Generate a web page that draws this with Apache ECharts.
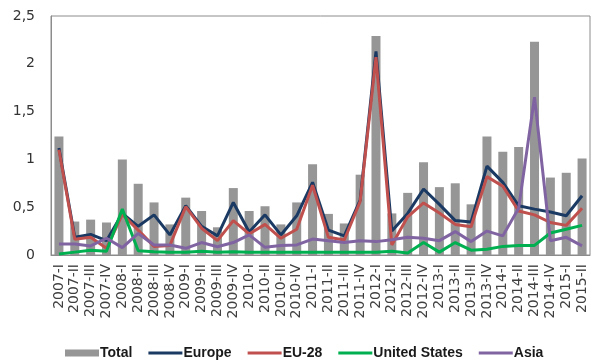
<!DOCTYPE html>
<html>
<head>
<meta charset="utf-8">
<script src="https://cdn.jsdelivr.net/npm/echarts@6/dist/echarts.min.js"></script>
<style>
html,body{margin:0;padding:0;background:#fff;}
#chart{width:595px;height:360px;}
</style>
</head>
<body>
<div id="chart"></div>
<script>
var categories = ['2007-I','2007-II','2007-III','2007-IV','2008-I','2008-II','2008-III','2008-IV','2009-I','2009-II','2009-III','2009-IV','2010-I','2010-II','2010-III','2010-IV','2011-I','2011-II','2011-III','2011-IV','2012-I','2012-II','2012-III','2012-IV','2013-I','2013-II','2013-III','2013-IV','2014-I','2014-II','2014-III','2014-IV','2015-I','2015-II'];
var total = [1.24,0.35,0.37,0.34,1.00,0.745,0.55,0.32,0.60,0.46,0.29,0.70,0.46,0.51,0.32,0.55,0.95,0.43,0.33,0.84,2.29,0.435,0.65,0.97,0.71,0.75,0.53,1.24,1.08,1.13,2.23,0.81,0.86,1.01];
var europe = [1.12,0.185,0.215,0.15,0.435,0.30,0.42,0.21,0.515,0.30,0.20,0.55,0.24,0.42,0.21,0.41,0.76,0.26,0.20,0.575,2.13,0.25,0.435,0.69,0.53,0.36,0.345,0.93,0.76,0.515,0.48,0.45,0.41,0.62];
var eu28 = [1.10,0.165,0.185,0.07,0.425,0.26,0.09,0.10,0.505,0.28,0.15,0.36,0.22,0.32,0.175,0.27,0.73,0.185,0.157,0.56,2.07,0.105,0.40,0.545,0.44,0.32,0.295,0.82,0.72,0.46,0.42,0.34,0.31,0.49];
var us = [0.01,0.03,0.05,0.04,0.48,0.045,0.035,0.03,0.03,0.04,0.03,0.035,0.03,0.03,0.03,0.03,0.03,0.03,0.03,0.03,0.03,0.04,0.02,0.13,0.03,0.13,0.05,0.06,0.09,0.10,0.10,0.23,0.27,0.31];
var asia = [0.115,0.115,0.095,0.175,0.077,0.225,0.105,0.105,0.07,0.13,0.087,0.13,0.21,0.08,0.10,0.105,0.167,0.15,0.13,0.15,0.14,0.16,0.185,0.175,0.15,0.245,0.14,0.25,0.20,0.49,1.65,0.15,0.185,0.095];
var yTicks = [0,0.5,1,1.5,2,2.5];

var chart = echarts.init(document.getElementById('chart'), null, {renderer:'canvas'});
var lineIcon = 'path://M0,0 L34,0 L34,3 L0,3 Z';
var lineS = function(name, data, color){
  return {name:name, type:'line', data:data, symbol:'none', smooth:false,
    lineStyle:{color:color, width:3}, itemStyle:{color:color}, z:3};
};
chart.setOption({
  animation:false,
  backgroundColor:'#ffffff',
  grid:{left:51, right:5, top:16, bottom:105, show:true, borderColor:'#8c8c8c', borderWidth:1, containLabel:false},
  legend:{
    left:60, top:341, itemWidth:34, itemHeight:7, itemGap:16, symbolKeepAspect:true,
    textStyle:{fontFamily:'Liberation Sans', fontWeight:'bold', fontSize:14, color:'#1a1a1a', padding:[0,0,0,-4]},
    data:[{name:'Total', icon:'rect'},{name:'Europe', icon:lineIcon},{name:'EU-28', icon:lineIcon},{name:'United States', icon:lineIcon},{name:'Asia', icon:lineIcon}]
  },
  xAxis:{type:'category', data:categories, boundaryGap:true,
    axisLine:{lineStyle:{color:'#8c8c8c'}}, axisTick:{show:false},
    axisLabel:{interval:0, rotate:90, margin:9, fontFamily:'DejaVu Sans', fontSize:14, color:'#404040'}},
  yAxis:{type:'value', min:yTicks[0], max:yTicks[yTicks.length-1], interval:0.5,
    axisLine:{show:true, lineStyle:{color:'#8c8c8c'}}, axisTick:{show:false}, splitLine:{show:false},
    axisLabel:{margin:16, fontFamily:'DejaVu Sans', fontSize:14, color:'#333333',
      formatter:function(v){return String(v).replace('.', ',');}}},
  series:[
    {name:'Total', type:'bar', data:total, barWidth:9, itemStyle:{color:'#969696'}, z:2},
    lineS('Europe', europe, '#1b3a63'),
    lineS('EU-28', eu28, '#c0504d'),
    lineS('United States', us, '#00b050'),
    lineS('Asia', asia, '#8064a2')
  ]
});
</script>
</body>
</html>
